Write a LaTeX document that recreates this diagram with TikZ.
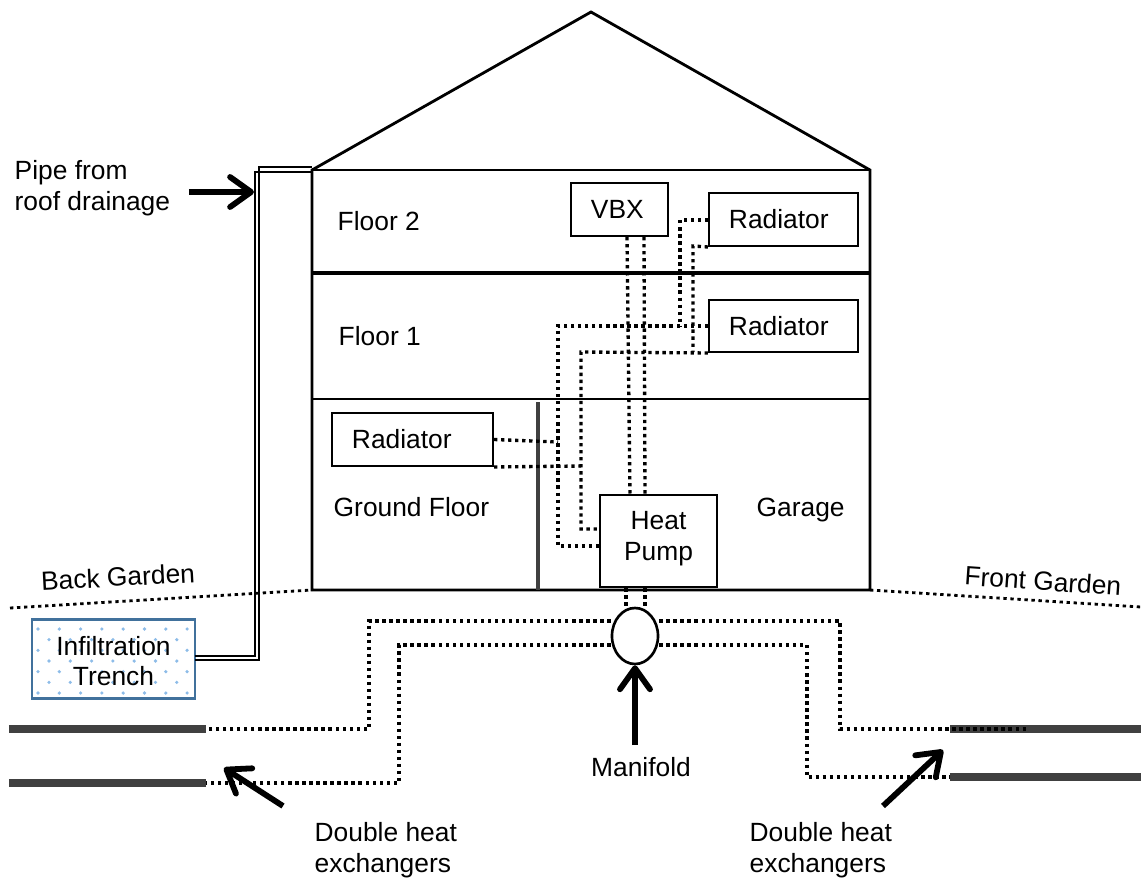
\documentclass[tikz,border=0pt]{standalone}
\usepackage{fontspec}
\setmainfont{Liberation Sans}
\usetikzlibrary{arrows.meta,shapes.geometric}
\definecolor{trenchedge}{HTML}{41719C}
\definecolor{trenchdot}{HTML}{8DBCE8}
\colorlet{exchanger}{black!75}
\tikzset{
  wall/.style={draw,line width=.8pt},
  roomline/.style={line width=.7pt},
  box/.style={draw,fill=white,line width=.55pt,inner xsep=2mm,inner ysep=0pt,align=left},
  pumpbox/.style={draw,fill=white,line width=.65pt,inner sep=0pt,align=center},
  label/.style={inner sep=0pt,align=left},
  pipe/.style={line width=.95pt,dash pattern=on .95pt off 1.05pt},
  drain/.style={line width=.65pt},
  exch/.style={line width=2.3pt,exchanger},
  pointer/.style={-{Straight Barb[length=2.1mm,width=3mm,line width=1.65pt,round]},line width=1.65pt},
}
\begin{document}
\begin{tikzpicture}[x=0.01cm,y=-0.01cm,font=\fontsize{7.5}{8.7}\selectfont]
  \useasboundingbox (0,0) rectangle (1141,881);
  % house
  \coordinate (roofl) at (312,170);
  \coordinate (roofr) at (870,170);
  \coordinate (apex) at (591,12);
  \coordinate (wallsw) at (312,590);
  \coordinate (wallse) at (870,590);
  \draw [wall] (roofl) -- (apex) -- (roofr) -- (wallse) -- (wallsw) -- cycle;
  \draw [wall] (roofl) -- (roofr);
  \draw [roomline,line width=1pt] (roofl |- 0,273) -- (roofr |- 0,273);
  \draw [roomline] (roofl |- 0,399) -- (roofr |- 0,399);
  \draw [exch,line width=1.15pt] (538,402) -- (538,590);
  % ground
  \coordinate (backend) at (10,608);
  \coordinate (frontend) at (1141,607);
  \draw [pipe,line width=.8pt] (backend) -- (wallsw);
  \draw [pipe,line width=.8pt] (wallse) -- (frontend);
  % boxes
  \node [box,text width=.57cm,minimum height=.53cm] (vbx) at (619.5,209.5) {VBX};
  \node [box,text width=1.09cm,minimum height=.53cm] (radtwo) at (783.5,219.5) {Radiator};
  \node [box,text width=1.09cm,minimum height=.52cm] (radone) at (783.5,326) {Radiator};
  \node [box,text width=1.21cm,minimum height=.53cm] (radzero) at (412.5,439.5) {Radiator};
  \node [pumpbox,minimum width=1.17cm,minimum height=.92cm] (pump) at (658.5,541) {Heat\\Pump\\[-5.8pt]};
  \node [ellipse,draw,fill=white,line width=.75pt,minimum width=.46cm,minimum height=.56cm,inner sep=0pt] (manifold) at (635,636) {};
  \coordinate (trenchnw) at (32,619);
  \coordinate (trenchse) at (195,698);
  \foreach \row in {0,2,4,6} {
    \foreach \col in {0,...,7} {
      \fill [trenchdot] (38+21.3*\col,629+10.67*\row) circle (1.8);
    }
  }
  \foreach \row in {1,3,5} {
    \foreach \col in {0,...,6} {
      \fill [trenchdot] (49+21.3*\col,629+10.67*\row) circle (1.8);
    }
  }
  \draw [trenchedge,line width=.85pt] (trenchnw) rectangle (trenchse);
  \node [align=center,inner sep=0pt] (trench) at (113.5,661) {Infiltration\\Trench};
  \coordinate (trenchtop) at (195,656);
  \coordinate (trenchbot) at (195,660);
  \coordinate (draintop) at (312,172);
  \coordinate (drainover) at (312,167);
  % drain from the roof
  \draw [drain] (trenchtop) -- (255,656) -- (255,172) -- (draintop);
  \draw [drain] (trenchbot) -- (259,660) -- (259,167) -- (drainover);
  % floor pipes
  \coordinate (jone) at (680,326);
  \coordinate (jtwo) at (693,352);
  \coordinate (jthree) at (558,442);
  \coordinate (jfour) at (581,466);
  \draw [pipe] (vbx.south -| 627,0) -- (pump.north -| 630,0);
  \draw [pipe] (vbx.south -| 644,0) -- (pump.north -| 645,0);
  \draw [pipe] (pump.south -| 626,0) -- (626,608);
  \draw [pipe] (pump.south -| 645,0) -- (645,608);
  \draw [pipe] (radtwo.west |- 0,220) -- (680,220) -- (jone);
  \draw [pipe] (radtwo.south west) -- (693,246) -- (jtwo);
  \draw [pipe] (radone.west) -- (558,326) -- (558,546) -- (pump.west |- 0,546);
  \draw [pipe] (radone.south west) -- (581,352) -- (581,529) -- (pump.west |- 0,529);
  \draw [pipe] (radzero.east) -- (jthree);
  \draw [pipe] (radzero.south east) -- (jfour);
  % exchangers
  \coordinate (exbl) at (9,729);
  \coordinate (exbr) at (206,729);
  \coordinate (excl) at (9,783);
  \coordinate (excr) at (206,783);
  \coordinate (exfl) at (950,729);
  \coordinate (exfr) at (1141,729);
  \coordinate (exgl) at (950,777);
  \coordinate (exgr) at (1141,777);
  \coordinate (exfdot) at (1027,729);
  \draw [exch] (exbl) -- (exbr);
  \draw [exch] (excl) -- (excr);
  \draw [exch] (exfl) -- (exfr);
  \draw [exch] (exgl) -- (exgr);
  \draw [pipe] (manifold.west |- 0,621) -- (369,621) -- (369,729) -- (exbr);
  \draw [pipe] (manifold.west |- 0,645) -- (399,645) -- (399,783) -- (excr);
  \draw [pipe] (manifold.east |- 0,621) -- (840,621) -- (840,729) -- (exfdot);
  \draw [pipe] (manifold.east |- 0,645) -- (807,645) -- (807,777) -- (exgl);
  % labels
  \node [label,anchor=west] (floortwo) at (337,221) {Floor 2};
  \node [label,anchor=west] (floorone) at (338,336) {Floor 1};
  \node [label,anchor=west] (ground) at (333,507) {Ground Floor};
  \node [label,anchor=west] (garage) at (756,510) {Garage};
  \node [label,rotate=3] (backg) at (118,577) {Back Garden};
  \node [label,rotate=-4] (frontg) at (1043,581) {Front Garden};
  \node [label,anchor=north west] (roofpipe) at (14,160) {Pipe from\\roof drainage};
  \node [label,anchor=north] (manilabel) at (641,757) {Manifold};
  \node [label,anchor=north west] (dblback) at (314,822) {Double heat\\exchangers};
  \node [label,anchor=north west] (dblfront) at (749,822) {Double heat\\exchangers};
  % pointers
  \coordinate (roofstart) at (189,192);
  \draw [pointer] (roofstart) -- (254,192);
  \draw [pointer] (635,745) -- (manifold.south);
  \draw [pointer] (283,806) -- (224,768);
  \draw [pointer] (883,806) -- (943,750);
\end{tikzpicture}
\end{document}
